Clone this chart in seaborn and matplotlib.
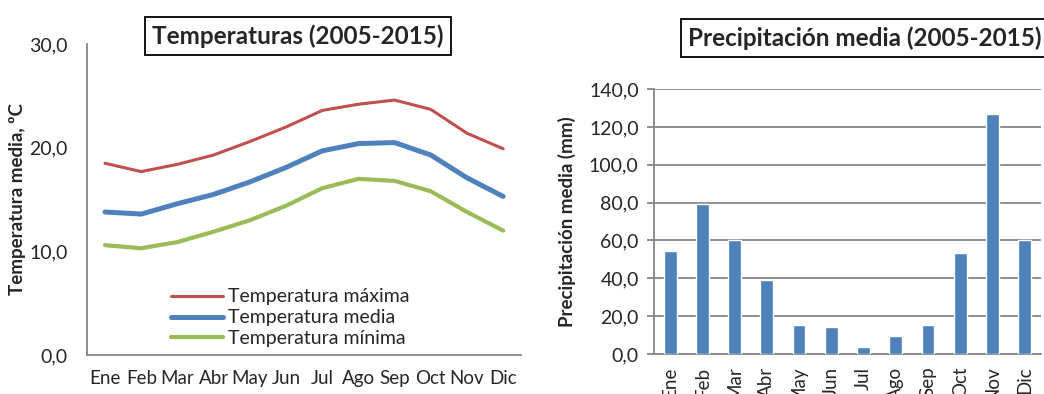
import matplotlib
matplotlib.use("Agg")
import matplotlib.pyplot as plt
import matplotlib.ticker as mticker
import pandas as pd
import seaborn as sns

# Monthly climate data (2005-2015)
meses = ["Ene", "Feb", "Mar", "Abr", "May", "Jun", "Jul", "Ago", "Sep", "Oct", "Nov", "Dic"]
temp_max = [18.5, 17.7, 18.4, 19.3, 20.6, 22.0, 23.6, 24.2, 24.6, 23.7, 21.4, 19.9]
temp_media = [13.8, 13.6, 14.6, 15.5, 16.7, 18.1, 19.7, 20.4, 20.5, 19.3, 17.1, 15.3]
temp_min = [10.6, 10.3, 10.9, 11.9, 13.0, 14.4, 16.1, 17.0, 16.8, 15.8, 13.8, 12.0]
precipitacion = [54.5, 79.0, 60.0, 39.0, 15.5, 14.5, 3.5, 9.5, 15.5, 53.5, 127.0, 60.0]

sns.set_theme(style="white")
plt.rcParams["font.family"] = ["Lato", "DejaVu Sans"]

AXIS_GREY = "#868686"
ROJO, AZUL, VERDE = "#C0504D", "#4F81BD", "#9BBB59"
FS = 13.5

fig = plt.figure(figsize=(10.44, 3.94), dpi=100)

# ---------- Temperatures ----------
ax1 = fig.add_axes([0.0833, 0.099, 0.416, 0.789])
df_t = pd.DataFrame({"mes": meses, "max": temp_max, "media": temp_media, "min": temp_min})
series = [
    ("max", "Temperatura máxima", ROJO, 2.2),
    ("media", "Temperatura media", AZUL, 3.6),
    ("min", "Temperatura mínima", VERDE, 3.0),
]
for col, nombre, color, lw in series:
    sns.lineplot(data=df_t, x="mes", y=col, ax=ax1, color=color, linewidth=lw,
                 label=nombre, sort=False, solid_capstyle="round")
ax1.set_xlim(-0.5, 11.5)
ax1.set_ylim(0, 30)
ax1.set_yticks([0, 10, 20, 30])
ax1.yaxis.set_major_formatter(mticker.FuncFormatter(lambda v, p: f"{v:.1f}".replace(".", ",")))
ax1.set_xlabel("")
ax1.set_ylabel("")
for s in ["top", "right"]:
    ax1.spines[s].set_visible(False)
for s in ["left", "bottom"]:
    ax1.spines[s].set_color(AXIS_GREY)
    ax1.spines[s].set_linewidth(1.3)
ax1.tick_params(axis="x", length=0, pad=11, labelsize=FS)
ax1.tick_params(axis="y", length=0, pad=14, labelsize=FS + 0.5)
leg = ax1.legend(loc="lower left", bbox_to_anchor=(0.175, 0.0), frameon=False,
                 fontsize=14, handlelength=2.7, handletextpad=0.25, labelspacing=0.2,
                 borderaxespad=0)

# ---------- Precipitation ----------
ax2 = fig.add_axes([0.6264, 0.1015, 0.3706, 0.6725])
df_p = pd.DataFrame({"mes": meses, "prec": precipitacion})
sns.barplot(data=df_p, x="mes", y="prec", ax=ax2, color=AZUL, saturation=1,
            width=0.4, zorder=3)
ax2.set_xlim(-0.5, 11.5)
ax2.set_ylim(0, 140)
ax2.set_yticks(range(0, 141, 20))
ax2.yaxis.set_major_formatter(mticker.FuncFormatter(lambda v, p: f"{v:.1f}".replace(".", ",")))
ax2.set_xlabel("")
ax2.set_ylabel("")
ax2.grid(axis="y", color=AXIS_GREY, linewidth=1.3, zorder=0)
ax2.set_axisbelow(True)
for s in ["top", "right"]:
    ax2.spines[s].set_visible(False)
for s in ["left", "bottom"]:
    ax2.spines[s].set_color(AXIS_GREY)
    ax2.spines[s].set_linewidth(1.3)
ax2.tick_params(axis="y", length=5, width=1.3, color=AXIS_GREY, pad=6, labelsize=FS + 0.5, left=True)
ax2.tick_params(axis="x", length=0, pad=9, labelsize=FS)
for lbl in ax2.get_xticklabels():
    lbl.set_rotation(90)
    lbl.set_va("top")
    lbl.set_ha("center")

# ---------- Titles and axis labels ----------
box = dict(boxstyle="square,pad=0.28", facecolor="white", edgecolor="black", linewidth=1.3)
fig.text(298 / 1044, 1 - 36 / 394, "Temperaturas (2005-2015)", ha="center", va="center",
         fontsize=17.5, fontweight="bold", bbox=box)
fig.text(688 / 1044, 1 - 38 / 394, "Precipitación media (2005-2015)", ha="left", va="center",
         fontsize=17.5, fontweight="bold", bbox=box)
fig.text(18 / 1044, 1 - 199 / 394, "Temperatura media, ºC", ha="center", va="center",
         rotation=90, fontsize=13.5, fontweight="bold")
fig.text(567 / 1044, 1 - 222 / 394, "Precipitación media (mm)", ha="center", va="center",
         rotation=90, fontsize=13.5, fontweight="bold")

fig.savefig("out.png", dpi=100)
